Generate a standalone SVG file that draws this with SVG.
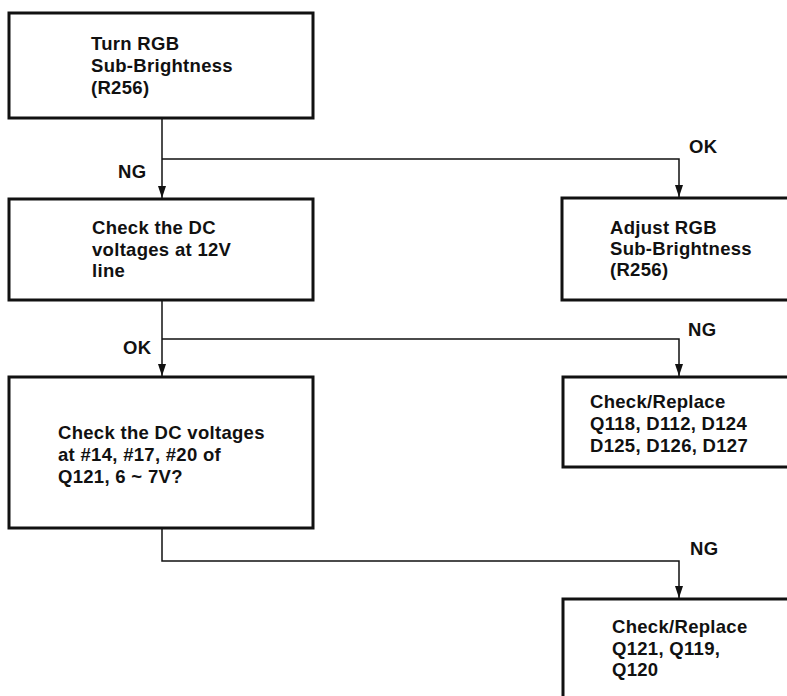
<svg xmlns="http://www.w3.org/2000/svg" width="787" height="696" viewBox="0 0 787 696">
<style>
.box{fill:#fff;stroke:#111;stroke-width:3}
.t{font-family:"Liberation Sans",Arial,sans-serif;font-weight:bold;font-size:18.5px;fill:#111;letter-spacing:0.3px}
.c{fill:none;stroke:#111;stroke-width:1.5}
</style>
<defs>
<marker id="ah" markerWidth="12" markerHeight="8" refX="12" refY="4" orient="auto" markerUnits="userSpaceOnUse" viewBox="0 0 12 8">
<path d="M0,0 L12,4 L0,8 Z" fill="#111"/>
</marker>
</defs>
<rect width="787" height="696" fill="#fff"/>
<g id="connectors">
<path class="c" d="M162,118 V198" marker-end="url(#ah)"/>
<path class="c" d="M162,159 H679 V197" marker-end="url(#ah)"/>
<path class="c" d="M162,300 V376" marker-end="url(#ah)"/>
<path class="c" d="M162,339 H679 V376" marker-end="url(#ah)"/>
<path class="c" d="M162,528 V561 H679 V598" marker-end="url(#ah)"/>
<text class="t" x="118" y="178">NG</text>
<text class="t" x="689" y="153">OK</text>
<text class="t" x="123" y="354">OK</text>
<text class="t" x="688" y="336">NG</text>
<text class="t" x="690" y="555">NG</text>
</g>
<g id="n1">
<rect class="box" x="9" y="13" width="304" height="105"/>
<text class="t" x="91" y="50">Turn RGB</text>
<text class="t" x="91" y="72">Sub-Brightness</text>
<text class="t" x="91" y="94">(R256)</text>
</g>
<g id="n2">
<rect class="box" x="9" y="199" width="304" height="101"/>
<text class="t" x="92" y="234">Check the DC</text>
<text class="t" x="92" y="256">voltages at 12V</text>
<text class="t" x="92" y="277">line</text>
</g>
<g id="n3">
<rect class="box" x="9" y="377" width="304" height="151"/>
<text class="t" x="58" y="439">Check the DC voltages</text>
<text class="t" x="58" y="461">at #14, #17, #20 of</text>
<text class="t" x="58" y="483">Q121, 6 ~ 7V?</text>
</g>
<g id="n4">
<rect class="box" x="562" y="198" width="240" height="102"/>
<text class="t" x="610" y="234">Adjust RGB</text>
<text class="t" x="610" y="255">Sub-Brightness</text>
<text class="t" x="610" y="276">(R256)</text>
</g>
<g id="n5">
<rect class="box" x="563" y="377" width="240" height="90"/>
<text class="t" x="590" y="408">Check/Replace</text>
<text class="t" x="590" y="430">Q118, D112, D124</text>
<text class="t" x="590" y="452">D125, D126, D127</text>
</g>
<g id="n6">
<rect class="box" x="563" y="599" width="240" height="110"/>
<text class="t" x="612" y="633">Check/Replace</text>
<text class="t" x="612" y="655">Q121, Q119,</text>
<text class="t" x="612" y="676">Q120</text>
</g>
</svg>
